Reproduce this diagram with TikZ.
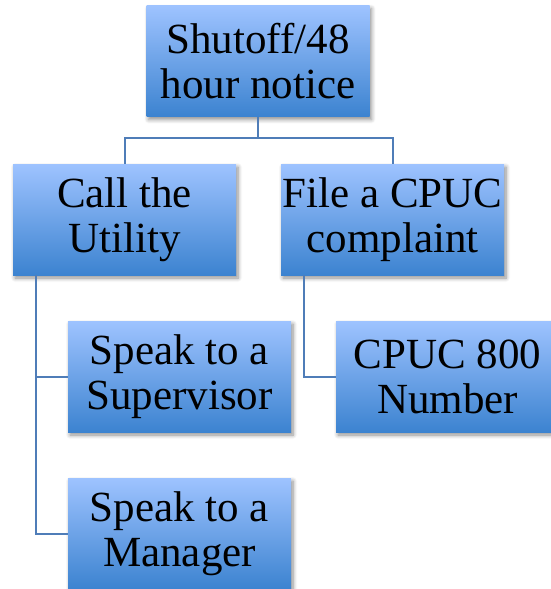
\documentclass[tikz,border=0pt]{standalone}
\usepackage{fontspec}
\setmainfont{Liberation Serif}
\usetikzlibrary{shadows.blur}
\definecolor{boxtop}{HTML}{9EC3FF}
\definecolor{boxbot}{HTML}{3C83D0}
\definecolor{linec}{HTML}{4F7DB8}
\tikzset{
  orgbox/.style={rectangle, minimum width=223pt, minimum height=111pt, inner sep=0pt,
    top color=boxtop, bottom color=boxbot, draw=none, align=center,
    font=\fontsize{43}{45}\selectfont,
    blur shadow={shadow xshift=2pt, shadow yshift=-3pt, shadow blur steps=6, shadow blur radius=4pt, shadow opacity=45}},
  conn/.style={draw=linec, line width=2pt}
}
\begin{document}
\begin{tikzpicture}[x=1pt,y=-1pt]
\useasboundingbox (0,0) rectangle (550,589);
\node[orgbox] (top) at (258,61) {Shutoff/48\\hour notice};
\node[orgbox] (util) at (124.5,219.5) {Call the\\Utility};
\node[orgbox] (cpuc) at (392.5,219.5) {File a CPUC\\complaint};
\node[orgbox] (sup) at (179.5,376.5) {Speak to a\\Supervisor};
\node[orgbox] (num) at (447.5,376.5) {CPUC 800\\Number};
\node[orgbox] (mgr) at (179.5,533.5) {Speak to a\\Manager};
\coordinate (split) at (258,138);
\draw[conn] (top.south) -- (split);
\draw[conn] (split) -| (util.north);
\draw[conn] (split) -| (cpuc.north);
\draw[conn] ([xshift=23pt]util.south west) |- (sup.west);
\draw[conn] ([xshift=23pt]util.south west) |- (mgr.west);
\draw[conn] ([xshift=23pt]cpuc.south west) |- (num.west);
\end{tikzpicture}
\end{document}
